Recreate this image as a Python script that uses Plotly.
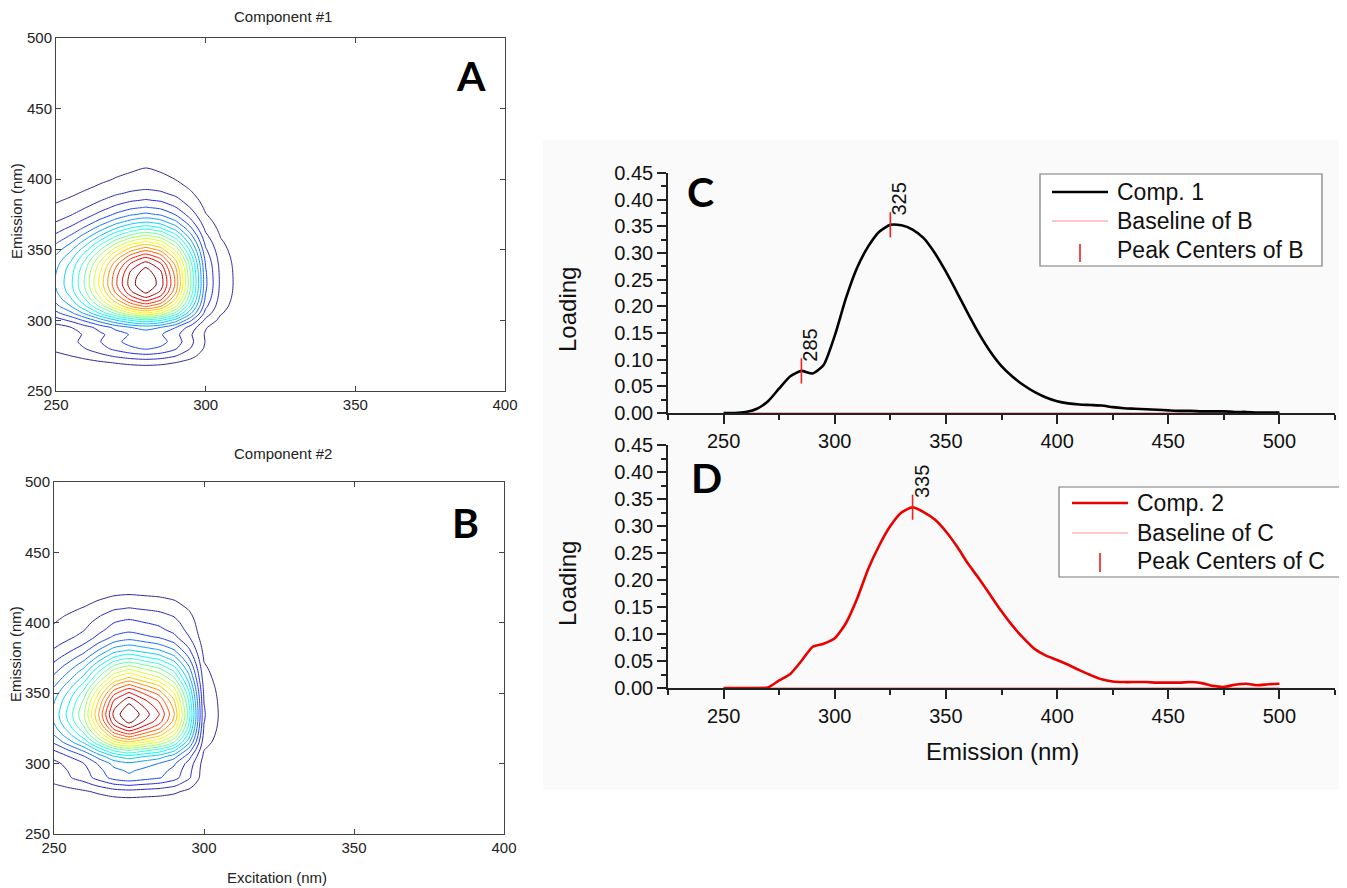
import numpy as np
import plotly.graph_objects as go

W, H = 1347, 888
OFF = 8  # page body margin of the browser

# ---------------- data ----------------
# excitation grid of the EEM components (nm) and excitation loadings (relative)
excitation_nm = [250, 255, 260, 265, 270, 275, 280, 285, 290, 295, 300, 305, 310, 315, 320, 325, 330]
comp1_excitation = [0.29, 0.37, 0.49, 0.64, 0.80, 0.93, 1.00, 0.93, 0.75, 0.48, 0.20, 0.085, 0.040, 0.012, 0.0, 0.0, 0.0]
comp2_excitation = [0.30, 0.40, 0.52, 0.72, 0.92, 1.00, 0.93, 0.86, 0.72, 0.45, 0.10, 0.045, 0.010, 0.0, 0.0, 0.0, 0.0]

# emission grid (nm) and emission loadings (panels C and D)
emission_nm = list(range(250, 505, 5))
comp1_emission = [0.000, 0.000, 0.002, 0.008, 0.022, 0.046, 0.069, 0.079, 0.074, 0.090,
                  0.145, 0.215, 0.272, 0.312, 0.340, 0.353, 0.352, 0.344, 0.328, 0.300,
                  0.265, 0.226, 0.186, 0.148, 0.115, 0.088, 0.068, 0.052, 0.039, 0.029,
                  0.022, 0.018, 0.016, 0.015, 0.014, 0.011, 0.009, 0.008, 0.007, 0.006,
                  0.005, 0.004, 0.004, 0.003, 0.003, 0.003, 0.002, 0.002, 0.001, 0.001, 0.001]
comp2_emission = [0.000, 0.000, 0.000, 0.000, 0.001, 0.014, 0.026, 0.050, 0.076, 0.082,
                  0.092, 0.120, 0.165, 0.220, 0.264, 0.300, 0.325, 0.335, 0.326, 0.312,
                  0.290, 0.262, 0.230, 0.202, 0.172, 0.142, 0.115, 0.092, 0.072, 0.060,
                  0.052, 0.043, 0.033, 0.024, 0.016, 0.012, 0.011, 0.011, 0.011, 0.010,
                  0.010, 0.010, 0.011, 0.009, 0.004, 0.002, 0.006, 0.008, 0.005, 0.007, 0.008]
baseline_x = [250, 500]
baseline_y = [0.0, 0.0]
peak_centers_comp1 = [285, 325]
peak_centers_comp2 = [335]

eem_x_ticks = [250, 300, 350, 400]
eem_y_ticks = [250, 300, 350, 400, 450, 500]
n_levels = 20

# ---------------- helpers ----------------
def px(xp):
    return (xp - OFF) / W

def py(yp):
    return 1 - (yp - OFF) / H

jet = [[0.0, 'rgb(50,40,145)'], [0.125, 'rgb(30,40,235)'], [0.375, 'rgb(0,255,255)'],
       [0.625, 'rgb(255,255,0)'], [0.875, 'rgb(255,0,0)'], [1.0, 'rgb(128,0,0)']]

SANS = 'Liberation Sans, Arial, sans-serif'


def eem(ex_load, em_load):
    b = np.array(em_load) / max(em_load)
    a = np.array(ex_load)
    return np.outer(b, a)


fig = go.Figure()

# ---------------- contour panels A, B ----------------
for i, (ex_load, em_load) in enumerate([(comp1_excitation, comp1_emission),
                                         (comp2_excitation, comp2_emission)]):
    ax = '' if i == 0 else '2'
    z = eem(ex_load, em_load)
    step = z.max() / (n_levels + 1)
    fig.add_trace(go.Contour(
        x=excitation_nm, y=emission_nm, z=z,
        xaxis='x' + ax, yaxis='y' + ax,
        autocontour=False,
        contours=dict(start=step, end=step * n_levels, size=step, coloring='lines'),
        line=dict(width=1.0, smoothing=0.7),
        colorscale=jet, zmin=0, zmax=z.max(), showscale=False, hoverinfo='skip'))

# ---------------- loading panels C, D ----------------
curves = [(comp1_emission, peak_centers_comp1, 'black', '3'),
          (comp2_emission, peak_centers_comp2, 'rgb(235,0,0)', '4')]
for em_load, peaks, col, ax in curves:
    fig.add_trace(go.Scatter(x=baseline_x, y=baseline_y, mode='lines',
                             line=dict(color='rgba(255,40,40,0.75)', width=1.2),
                             xaxis='x' + ax, yaxis='y' + ax, showlegend=False, cliponaxis=False))
    fig.add_trace(go.Scatter(x=emission_nm, y=em_load, mode='lines',
                             line=dict(color=col, width=2.6, shape='spline', smoothing=0.6),
                             xaxis='x' + ax, yaxis='y' + ax, showlegend=False, cliponaxis=False))
    peak_y = [float(np.interp(p, emission_nm, em_load)) for p in peaks]
    fig.add_trace(go.Scatter(x=peaks, y=peak_y, mode='markers',
                             marker=dict(symbol='line-ns-open', size=18, color='rgb(240,30,30)',
                                         line=dict(width=1.6, color='rgb(240,30,30)')),
                             xaxis='x' + ax, yaxis='y' + ax, showlegend=False))
    for p, v in zip(peaks, peak_y):
        fig.add_annotation(x=p, y=v + 0.017, xref='x' + ax, yref='y' + ax,
                           text=str(p), showarrow=False, textangle=-90,
                           xanchor='center', yanchor='bottom', xshift=9, yshift=-2,
                           font=dict(family=SANS, size=20, color='#111'))

# ---------------- axes ----------------
eem_axis = dict(showline=True, linecolor='#444', linewidth=1, mirror='ticks', automargin=False,
                ticks='inside', ticklen=5, tickcolor='#444', showgrid=False, zeroline=False,
                tickfont=dict(family=SANS, size=15, color='#222'))
load_x = dict(range=[225, 525], tickmode='linear', tick0=250, dtick=50, automargin=False,
              showline=True, linecolor='#222', linewidth=1.6, ticks='outside', ticklen=9,
              tickwidth=1.5, tickcolor='#222', showgrid=False, zeroline=False,
              minor=dict(ticks='outside', ticklen=5, tickwidth=1.5, tickcolor='#222', tick0=225, dtick=25),
              layer='below traces', tickfont=dict(family=SANS, size=20, color='#111'))
load_y = dict(range=[0, 0.4502], tickmode='linear', tick0=0, dtick=0.05, tickformat='.2f', automargin=False,
              showline=True, linecolor='#222', linewidth=1.6, ticks='outside', ticklen=9,
              tickwidth=1.5, tickcolor='#222', showgrid=False, zeroline=False,
              minor=dict(ticks='outside', ticklen=5, tickwidth=1.5, tickcolor='#222', tick0=0, dtick=0.025),
              layer='below traces', tickfont=dict(family=SANS, size=20, color='#111'))

fig.update_layout(
    width=W, height=H, margin=dict(l=0, r=0, t=0, b=0, pad=0, autoexpand=False),
    paper_bgcolor='white', plot_bgcolor='rgba(0,0,0,0)', showlegend=False,
    xaxis=dict(eem_axis, domain=[px(56), px(505)], range=[250, 400], tickvals=eem_x_ticks, anchor='y'),
    yaxis=dict(eem_axis, domain=[py(391), py(38)], range=[250, 500], tickvals=eem_y_ticks, anchor='x'),
    xaxis2=dict(eem_axis, domain=[px(54), px(504)], range=[250, 400], tickvals=eem_x_ticks, anchor='y2'),
    yaxis2=dict(eem_axis, domain=[py(834), py(482)], range=[250, 500], tickvals=eem_y_ticks, anchor='x2'),
    xaxis3=dict(load_x, domain=[px(668), px(1335)], anchor='y3'),
    yaxis3=dict(load_y, domain=[py(413), py(173)], anchor='x3'),
    xaxis4=dict(load_x, domain=[px(668), px(1335)], anchor='y4'),
    yaxis4=dict(load_y, domain=[py(688), py(445)], anchor='x4'),
)

# faint background behind the loading panels
shapes = [dict(type='rect', xref='paper', yref='paper', x0=px(543), x1=1, y0=py(790), y1=py(140),
               fillcolor='#fafafa', line=dict(width=0), layer='below')]

# ---------------- manual legends ----------------
def legend(box, line_x, rows, text_x, main_col, peak_x, peak_y0, peak_y1, labels):
    out = [dict(type='rect', xref='paper', yref='paper', x0=px(box[0]), x1=px(box[1]),
                y0=py(box[3]), y1=py(box[2]), line=dict(color='#7a7a7a', width=1.2),
                fillcolor='white', layer='above')]
    out.append(dict(type='line', xref='paper', yref='paper', x0=px(line_x[0]), x1=px(line_x[1]),
                    y0=py(rows[0]), y1=py(rows[0]), line=dict(color=main_col, width=2.6)))
    out.append(dict(type='line', xref='paper', yref='paper', x0=px(line_x[0]), x1=px(line_x[1]),
                    y0=py(rows[1]), y1=py(rows[1]), line=dict(color='rgba(255,60,60,0.55)', width=1.2)))
    out.append(dict(type='line', xref='paper', yref='paper', x0=px(peak_x), x1=px(peak_x),
                    y0=py(peak_y0), y1=py(peak_y1), line=dict(color='rgb(240,30,30)', width=1.6)))
    for r, t in zip(rows, labels):
        fig.add_annotation(x=px(text_x), y=py(r), xref='paper', yref='paper', text=t,
                           showarrow=False, xanchor='left', yanchor='middle',
                           font=dict(family=SANS, size=23, color='#111'))
    return out

shapes += legend((1040, 1322, 174, 266), (1052, 1108), (192, 221, 250), 1115, 'black',
                 1080, 244, 262, ['Comp. 1', 'Baseline of B', 'Peak Centers of B'])
shapes += legend((1059, 1342, 487, 577), (1072, 1128), (503, 533, 561), 1135, 'rgb(235,0,0)',
                 1100, 553, 572, ['Comp. 2', 'Baseline of C', 'Peak Centers of C'])
fig.update_layout(shapes=shapes)

# ---------------- texts ----------------
def text(xp, yp, t, size, angle=0, family=SANS, color='#222'):
    fig.add_annotation(x=px(xp), y=py(yp), xref='paper', yref='paper', text=t, showarrow=False,
                       textangle=angle, xanchor='center', yanchor='middle',
                       font=dict(family=family, size=size, color=color))

text(283, 17, 'Component #1', 15)
text(283, 453, 'Component #2', 15)
text(16, 211, 'Emission (nm)', 15, -90)
text(15, 654, 'Emission (nm)', 15, -90)
text(277, 877, 'Excitation (nm)', 15)
text(567, 310, 'Loading', 24, -90, color='#111')
text(567, 584, 'Loading', 24, -90, color='#111')
text(1002, 751, 'Emission (nm)', 24, color='#111')
for xp, yp, t in [(471, 75, 'A'), (465, 522, 'B'), (700, 191, 'C'), (706, 477, 'D')]:
    text(xp, yp, '<b>' + t + '</b>', 41, family='Lato, Open Sans, sans-serif', color='black')

fig.write_html('out.html')
